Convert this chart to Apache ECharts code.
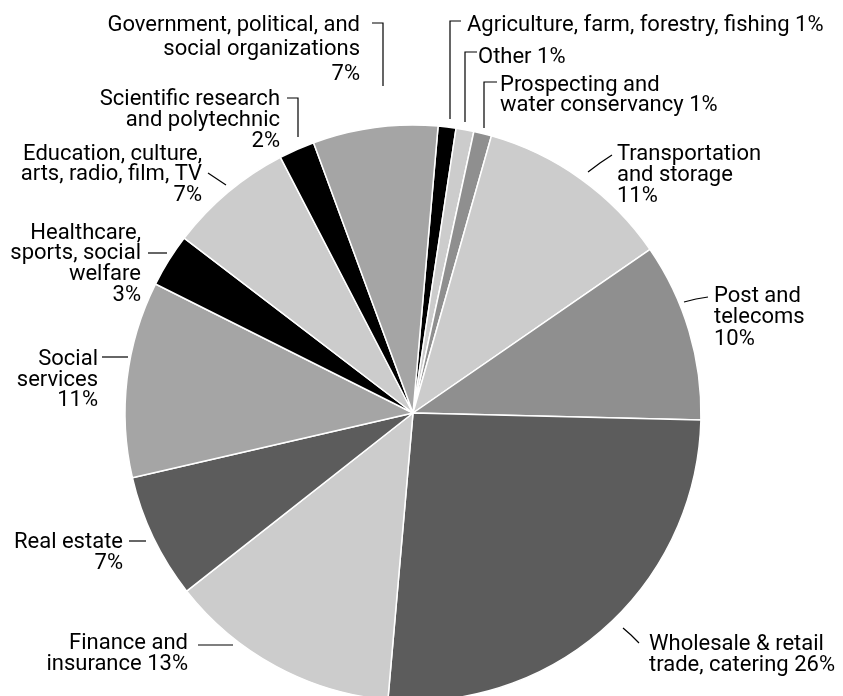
<!DOCTYPE html>
<html>
<head>
<meta charset="utf-8">
<script src="https://cdn.jsdelivr.net/npm/echarts@6/dist/echarts.min.js"></script>
<style>
  html, body { margin: 0; padding: 0; background: #ffffff; }
  #chart { width: 843px; height: 696px; }
</style>
</head>
<body>
<div id="chart"></div>
<script>
// Employment share by sector, clockwise from just right of 12 o'clock
const sectors = [
  'Agriculture, farm, forestry, fishing',
  'Other',
  'Prospecting and water conservancy',
  'Transportation and storage',
  'Post and telecoms',
  'Wholesale & retail trade, catering',
  'Finance and insurance',
  'Real estate',
  'Social services',
  'Healthcare, sports, social welfare',
  'Education, culture, arts, radio, film, TV',
  'Scientific research and polytechnic',
  'Government, political, and social organizations'
];
const shares = [1, 1, 1, 11, 10, 26, 13, 7, 11, 3, 7, 2, 7];

// Label wording with line breaks; the percentage is appended from the data
const labelPrefixes = [
  'Agriculture, farm, forestry, fishing ',
  'Other ',
  'Prospecting and\nwater conservancy ',
  'Transportation\nand storage\n',
  'Post and\ntelecoms\n',
  'Wholesale & retail\ntrade, catering ',
  'Finance and\ninsurance ',
  'Real estate\n',
  'Social\nservices\n',
  'Healthcare,\nsports, social\nwelfare\n',
  'Education, culture,\narts, radio, film, TV\n',
  'Scientific research\nand polytechnic\n',
  'Government, political, and\nsocial organizations\n'
];

const sliceColors = [
  '#000000', '#cccccc', '#8f8f8f', '#cccccc', '#8f8f8f', '#5c5c5c', '#cccccc',
  '#5c5c5c', '#a5a5a5', '#000000', '#cccccc', '#000000', '#a5a5a5'
];

// Label placement: anchor x, first-line baseline, alignment, line height, leader polyline
const labelPlacement = [
  { x: 467, base: 31,  align: 'left',  lh: 21,   line: [[450, 119], [450, 21], [461, 21]] },
  { x: 478, base: 63,  align: 'left',  lh: 21,   line: [[465, 122], [465, 52], [477, 52]] },
  { x: 500, base: 91,  align: 'left',  lh: 20.5, line: [[484, 128], [484, 82], [497, 82]] },
  { x: 617, base: 160, align: 'left',  lh: 21,   line: [[588, 172], [600, 163], [612, 155]] },
  { x: 714, base: 302, align: 'left',  lh: 21.7, line: [[684, 302], [696, 299], [708, 297]] },
  { x: 649, base: 650, align: 'left',  lh: 21.7, line: [[623, 628], [631, 635], [639, 643]] },
  { x: 188, base: 649, align: 'right', lh: 21,   line: [[233, 645], [216, 645], [198, 645]] },
  { x: 123, base: 548, align: 'right', lh: 21,   line: [[146, 541], [138, 541], [129, 541]] },
  { x: 98,  base: 365, align: 'right', lh: 20.8, line: [[128, 357], [115, 357], [102, 357]] },
  { x: 141, base: 239, align: 'right', lh: 20.7, line: [[167, 253], [158, 253], [148, 253]] },
  { x: 202, base: 160, align: 'right', lh: 20.5, line: [[226, 185], [217, 179], [208, 173]] },
  { x: 280, base: 105, align: 'right', lh: 21.3, line: [[298, 137], [298, 98], [287, 98]] },
  { x: 360, base: 31,  align: 'right', lh: 24.5, line: [[383, 86], [383, 23], [372, 23]] }
];

const FONT_SIZE = 22;
// distance from a line's middle to its baseline for this face and size
const BASELINE_DROP = 5.8;

const chart = echarts.init(document.getElementById('chart'), null, { renderer: 'canvas' });

chart.setOption({
  animation: false,
  backgroundColor: '#ffffff',
  series: [{
    type: 'pie',
    center: [413, 413],
    radius: [0, 288],
    startAngle: 85,
    clockwise: true,
    avoidLabelOverlap: false,
    itemStyle: { borderColor: '#ffffff', borderWidth: 1.5 },
    label: {
      show: true,
      position: 'outside',
      color: '#000000',
      fontFamily: 'Roboto, sans-serif',
      fontSize: FONT_SIZE,
      formatter: p => labelPrefixes[p.dataIndex] + Math.round(p.percent) + '%'
    },
    labelLine: {
      show: true,
      smooth: false,
      lineStyle: { color: '#000000', width: 1.2 }
    },
    labelLayout: function (params) {
      const pl = labelPlacement[params.dataIndex];
      return {
        x: pl.x,
        y: pl.base - BASELINE_DROP - pl.lh / 2,
        align: pl.align,
        verticalAlign: 'top',
        labelLinePoints: pl.line
      };
    },
    data: sectors.map((name, i) => ({
      name: name,
      value: shares[i],
      itemStyle: { color: sliceColors[i] },
      label: { lineHeight: labelPlacement[i].lh }
    }))
  }]
});
</script>
</body>
</html>
